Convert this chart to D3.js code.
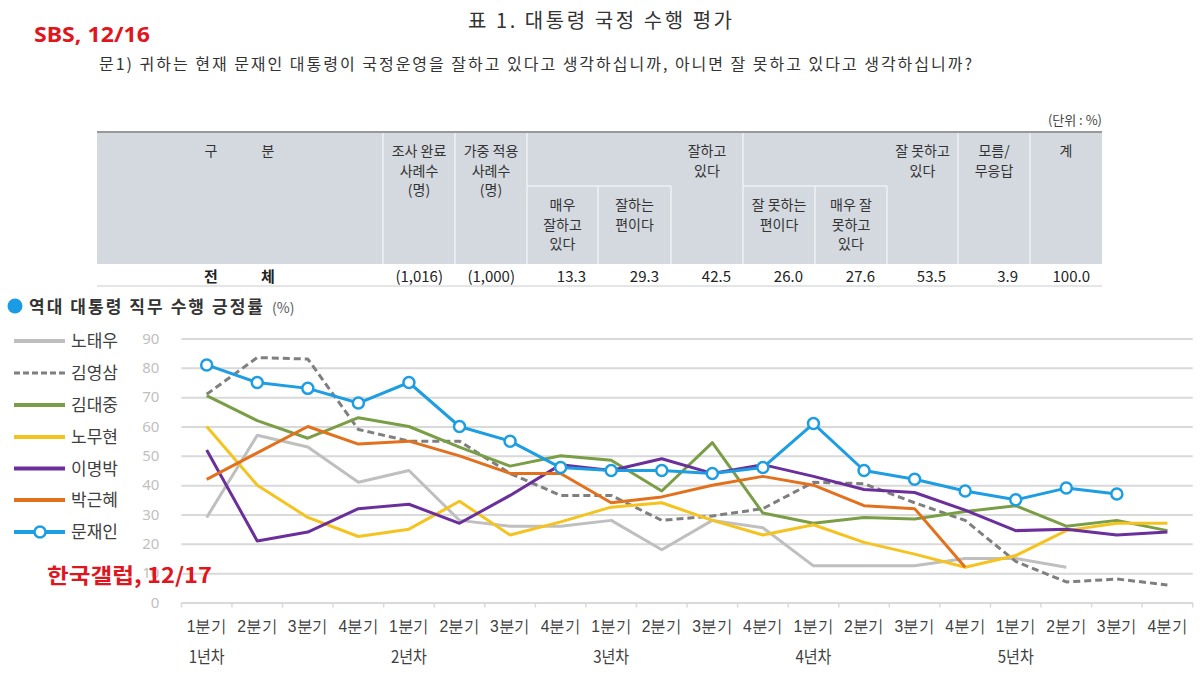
<!DOCTYPE html>
<html><head><meta charset="utf-8">
<script src="https://cdn.jsdelivr.net/npm/d3@7"></script>
<style>
html,body{margin:0;padding:0;background:#fff;}
svg{display:block;font-family:"Noto Sans CJK KR","Noto Sans",sans-serif;}
</style></head><body>
<svg id="c" width="1200" height="675"></svg>
<script>
// ---------- data ----------
const quarters = ["1분기","2분기","3분기","4분기"];
const years = ["1년차","2년차","3년차","4년차","5년차"];
const presidents = ["노태우","김영삼","김대중","노무현","이명박","박근혜","문재인"];
const rohTaewoo   = [29,57,53,41,45,28,26,26,28,18,28,25.5,12.5,12.5,12.5,15,15,12];
const kimYoungsam = [71,83.5,83,59,55,55,44,36.5,36.5,28,29.5,32,41,40.5,34,28,14,7,8,6];
const kimDaejung  = [70.5,62,56,63,60,53,46.5,50,48.5,38,54.5,30.5,27,29,28.5,31,33,26,28,24.5];
const rohMoohyun  = [60,40,29,22.5,25,34.5,23,27.5,32.5,34,28,23,26.5,20.5,16.5,12,16,24.5,27,27];
const leeMyungbak = [52,21,24,32,33.5,27,36.5,47,45,49,44,47,43,38.5,37.5,31.5,24.5,25,23,24];
const parkGeunhye = [42,51,60,54,55,50,44,44,34,36,40,43,40,33,32,12];
const moonJaein   = [81,75,73,68,75,60,55,46,45,45,44,46,61,45,42,38,35,39,37];
const yTicks = [0,10,20,30,40,50,60,70,80,90];

const tableRowLabel = ["전","체"];
const tableRowValues = ["(1,016)","(1,000)","13.3","29.3","42.5","26.0","27.6","53.5","3.9","100.0"];
const tableHeaders = [
  ["조사 완료","사례수","(명)"],
  ["가중 적용","사례수","(명)"],
  ["매우","잘하고","있다"],
  ["잘하는","편이다"],
  ["잘하고","있다"],
  ["잘 못하는","편이다"],
  ["매우 잘","못하고","있다"],
  ["잘 못하고","있다"],
  ["모름/","무응답"],
  ["계"]
];

// ---------- setup ----------
const svg = d3.select("#c");
const categories = [];
years.forEach(yr => quarters.forEach(q => categories.push(yr + "|" + q)));
const seriesData = [rohTaewoo, kimYoungsam, kimDaejung, rohMoohyun, leeMyungbak, parkGeunhye, moonJaein];
const colors = ["#bfbfbf","#7f7f7f","#7a9e45","#f5c320","#6b2f9b","#e2711d","#1d9de2"];
const dashes = [null,"7,4",null,null,null,null,null];

// ---------- header texts ----------
svg.append("text").attr("x",600).attr("y",28).attr("text-anchor","middle")
  .attr("font-size",20).attr("fill","#333").attr("textLength",264).attr("lengthAdjust","spacing")
  .text("표 1. 대통령 국정 수행 평가");
svg.append("text").attr("x",99).attr("y",70)
  .attr("font-size",16).attr("fill","#333").attr("textLength",873).attr("lengthAdjust","spacing")
  .text("문1)  귀하는 현재 문재인 대통령이 국정운영을 잘하고 있다고 생각하십니까, 아니면 잘 못하고 있다고 생각하십니까?");
svg.append("text").attr("x",1102).attr("y",125).attr("text-anchor","end")
  .attr("font-size",13).attr("fill","#444").text("(단위 : %)");

// ---------- table ----------
const colEdges = [97,383,455,527,598,671,743,815,887,958,1030,1102];
const tTop = 132, tSub = 186, tHeadBot = 264, tRowBot = 286;
const tg = svg.append("g");
tg.append("rect").attr("x",97).attr("y",tTop).attr("width",1102-97).attr("height",tHeadBot-tTop).attr("fill","#d4d9e0");
const fullCols = [1,2,3,6,9,10];
const subCols = [4,5,7,8];
fullCols.forEach(i => tg.append("line").attr("x1",colEdges[i]).attr("x2",colEdges[i]).attr("y1",tTop).attr("y2",tHeadBot).attr("stroke","#eef1f5").attr("stroke-width",1.5));
subCols.forEach(i => tg.append("line").attr("x1",colEdges[i]).attr("x2",colEdges[i]).attr("y1",tSub).attr("y2",tHeadBot).attr("stroke","#eef1f5").attr("stroke-width",1.5));
[[527,671],[743,887]].forEach(s => tg.append("line").attr("x1",s[0]).attr("x2",s[1]).attr("y1",tSub).attr("y2",tSub).attr("stroke","#eef1f5").attr("stroke-width",1.5));
tg.append("line").attr("x1",97).attr("x2",1102).attr("y1",tTop).attr("y2",tTop).attr("stroke","#999").attr("stroke-width",2);
tg.append("line").attr("x1",97).attr("x2",1102).attr("y1",tRowBot).attr("y2",tRowBot).attr("stroke","#c9ccd0").attr("stroke-width",1);
tg.append("text").attr("x",211).attr("y",156).attr("text-anchor","middle").attr("font-size",14).attr("fill","#333").text("구");
tg.append("text").attr("x",268).attr("y",156).attr("text-anchor","middle").attr("font-size",14).attr("fill","#333").text("분");
const subIdx = [2,3,5,6];
tableHeaders.forEach((lines,i) => {
  const cx = (colEdges[i+1]+colEdges[i+2])/2;
  const y0 = subIdx.includes(i) ? 210 : 156;
  lines.forEach((ln,j) => tg.append("text").attr("x",cx).attr("y",y0 + j*19.5)
    .attr("text-anchor","middle").attr("font-size",14).attr("fill","#333").text(ln));
});
tg.append("text").attr("x",211).attr("y",282).attr("text-anchor","middle").attr("font-size",15).attr("font-weight","bold").attr("fill","#222").text(tableRowLabel[0]);
tg.append("text").attr("x",268).attr("y",282).attr("text-anchor","middle").attr("font-size",15).attr("font-weight","bold").attr("fill","#222").text(tableRowLabel[1]);
tableRowValues.forEach((v,i) => tg.append("text").attr("x",colEdges[i+2]-12).attr("y",282)
  .attr("text-anchor","end").attr("font-size",15).attr("fill","#222").text(v));

// ---------- chart ----------
const x = d3.scaleBand().domain(categories).range([181.4,1192.7]).paddingInner(0).paddingOuter(0);
const y = d3.scaleLinear().domain([0,90]).range([602.5,338.5]);
const cx = c => x(c) + x.bandwidth()/2;

const yAxis = svg.append("g").attr("transform","translate(181.4,0)")
  .call(d3.axisLeft(y).tickValues(yTicks).tickSize(-(1192.7-181.4)).tickPadding(22).tickFormat(d3.format("d")));
yAxis.select(".domain").remove();
yAxis.selectAll(".tick line").attr("stroke","#d9d9d9").attr("stroke-width",2);
yAxis.selectAll(".tick text").attr("fill","#bfbfbf").attr("font-size",15)
  .attr("font-family","'Noto Sans','Noto Sans CJK KR',sans-serif");

const edges = categories.map(c => x(c)).concat([x.range()[1]]);
svg.append("g").selectAll("line").data(edges).join("line")
  .attr("x1",d=>d).attr("x2",d=>d).attr("y1",602.5).attr("y2",607.5)
  .attr("stroke","#d9d9d9").attr("stroke-width",1.5);

const xAxis = svg.append("g").attr("transform","translate(0,602.5)")
  .call(d3.axisBottom(x).tickSize(0).tickFormat(d => d.split("|")[1]));
xAxis.select(".domain").remove();
xAxis.selectAll(".tick text").attr("y",29.5).attr("dy",0).attr("font-size",17)
  .attr("fill","#404040").attr("textLength",40).attr("lengthAdjust","spacingAndGlyphs");

svg.append("g").selectAll("text").data(years).join("text")
  .attr("x", yr => cx(yr + "|" + quarters[0])).attr("y",663).attr("text-anchor","middle")
  .attr("font-size",17).attr("fill","#404040").attr("textLength",36).attr("lengthAdjust","spacingAndGlyphs")
  .text(d=>d);

const line = d3.line().x(d => cx(d.c)).y(d => y(d.v));
seriesData.forEach((arr,si) => {
  const pts = arr.map((v,i) => ({c: categories[i], v}));
  const p = svg.append("path").datum(pts).attr("d",line).attr("fill","none")
    .attr("stroke",colors[si]).attr("stroke-width",3).attr("stroke-linejoin","round");
  if (dashes[si]) p.attr("stroke-dasharray",dashes[si]);
  if (si === 6) {
    svg.append("g").selectAll("circle").data(pts).join("circle")
      .attr("cx",d=>cx(d.c)).attr("cy",d=>y(d.v)).attr("r",5.5)
      .attr("fill","#fff").attr("stroke",colors[si]).attr("stroke-width",2.5);
  }
});

svg.append("circle").attr("cx",15).attr("cy",306).attr("r",7.5).attr("fill","#1a9be6");
svg.append("text").attr("x",29).attr("y",313).attr("font-size",17).attr("font-weight","bold")
  .attr("fill","#333").attr("textLength",234).attr("lengthAdjust","spacing").text("역대 대통령 직무 수행 긍정률");
svg.append("text").attr("x",272).attr("y",313).attr("font-size",14).attr("fill","#595959").text("(%)");

const legY = [341,373,405,437,468.5,500,532];
const lg = svg.append("g");
presidents.forEach((name,i) => {
  const l = lg.append("line").attr("x1",14).attr("x2",65).attr("y1",legY[i]).attr("y2",legY[i])
    .attr("stroke",colors[i]).attr("stroke-width",i===1?3:4);
  if (dashes[i]) l.attr("stroke-dasharray","6,3");
  if (i === 6) lg.append("circle").attr("cx",40).attr("cy",legY[i]).attr("r",5.5)
    .attr("fill","#fff").attr("stroke",colors[i]).attr("stroke-width",2.5);
  lg.append("text").attr("x",71).attr("y",legY[i]).attr("dy","0.36em").attr("font-size",17)
    .attr("fill","#404040").text(name);
});

svg.append("text").attr("x",34).attr("y",42).attr("font-size",21).attr("font-weight","bold")
  .attr("fill","#e0161e").attr("textLength",116).attr("lengthAdjust","spacingAndGlyphs")
  .attr("font-family","'Noto Sans','Noto Sans CJK KR',sans-serif").text("SBS, 12/16");
svg.append("text").attr("x",47).attr("y",583).attr("font-size",21).attr("font-weight","bold")
  .attr("fill","#e0161e").attr("textLength",165).attr("lengthAdjust","spacingAndGlyphs").text("한국갤럽, 12/17");
</script>
</body></html>
